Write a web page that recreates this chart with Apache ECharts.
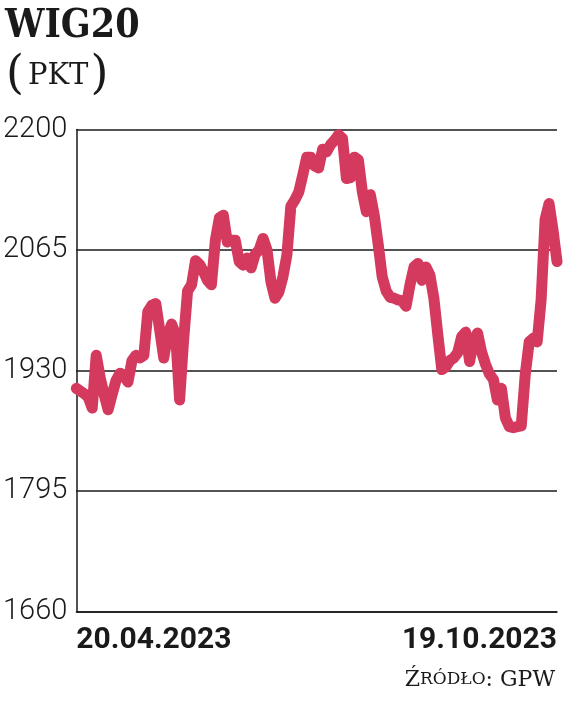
<!DOCTYPE html>
<html>
<head>
<meta charset="utf-8">
<script src="https://cdn.jsdelivr.net/npm/echarts@6/dist/echarts.min.js"></script>
<style>
html,body{margin:0;padding:0;background:#fff;}
#c{width:564px;height:702px;}
</style>
</head>
<body>
<div id="c"></div>
<script>
const titleText = 'WIG20';
const unitText = 'PKT';
const sourceText = ['Ź', 'RÓDŁO', ': GPW'];
const xLabels = ['20.04.2023', '19.10.2023'];
const yTicks = [1660, 1795, 1930, 2065, 2200];
const values = [
  1910, 1907, 1904, 1900, 1888, 1947, 1922, 1903, 1886, 1903,
  1919, 1927, 1924, 1917, 1941, 1947, 1944, 1947, 1996, 2003,
  2005, 1975, 1944, 1970, 1982, 1970, 1897, 1964, 2019, 2026,
  2053, 2049, 2041, 2031, 2026, 2076, 2101, 2104, 2074, 2076,
  2076, 2052, 2048, 2056, 2045, 2060, 2065, 2078, 2065, 2029,
  2011, 2018, 2035, 2059, 2114, 2121, 2130, 2149, 2169, 2169,
  2159, 2157, 2178, 2175, 2183, 2188, 2194, 2190, 2145, 2146,
  2169, 2166, 2130, 2108, 2127, 2104, 2071, 2035, 2019, 2012,
  2011, 2009, 2008, 2002, 2026, 2046, 2050, 2031, 2046, 2037,
  2011, 1970, 1931, 1934, 1941, 1944, 1950, 1968, 1973, 1940,
  1964, 1972, 1951, 1937, 1926, 1920, 1897, 1910, 1877, 1867,
  1866, 1867, 1868, 1925, 1962, 1966, 1962, 2009, 2099, 2117,
  2087, 2052
];
const categories = values.map((_, i) => String(i));

const chart = echarts.init(document.getElementById('c'), null, {renderer: 'canvas'});
const last = values.length - 1;
chart.setOption({
  animation: false,
  backgroundColor: '#ffffff',
  title: [
    {
      text: titleText,
      left: 0, top: 2,
      textStyle: {fontFamily: 'DejaVu Serif Condensed', fontWeight: 'bold', fontSize: 39, color: '#1a1a1a'}
    },
    {
      text: '{p|(}{u|' + unitText + '}{p|)}',
      left: 1, top: 48,
      textStyle: {
        fontWeight: 'normal',
        rich: {
          p: {fontFamily: 'DejaVu Serif', fontSize: 46, color: '#1a1a1a', fontWeight: 'normal'},
          u: {fontFamily: 'DejaVu Serif', fontSize: 29, color: '#1a1a1a', fontWeight: 'normal', padding: [0, 2, 0, 4]}
        }
      }
    },
    {
      text: '{b|' + sourceText[0] + '}{s|' + sourceText[1] + '}{b|' + sourceText[2] + '}',
      right: 4, top: 664,
      textStyle: {
        fontWeight: 'normal',
        rich: {
          b: {fontFamily: 'DejaVu Serif', fontSize: 22, color: '#1a1a1a', fontWeight: 'normal'},
          s: {fontFamily: 'DejaVu Serif', fontSize: 17, color: '#1a1a1a', fontWeight: 'normal'}
        }
      }
    }
  ],
  grid: {left: 73, right: 7, top: 129.5, bottom: 90.5, containLabel: false},
  xAxis: {
    type: 'category',
    data: categories,
    boundaryGap: false,
    axisLine: {show: true, lineStyle: {color: '#1a1a1a', width: 1.5}},
    axisTick: {show: false},
    splitLine: {show: false},
    axisLabel: {
      interval: 0,
      hideOverlap: false,
      margin: 14,
      alignMinLabel: 'left',
      alignMaxLabel: 'right',
      fontFamily: 'Roboto', fontWeight: 'bold', fontSize: 30, color: '#1a1a1a',
      formatter: function (v, i) { return i === 0 ? xLabels[0] : (i === last ? xLabels[1] : ''); }
    }
  },
  yAxis: {
    type: 'value',
    min: yTicks[0], max: yTicks[yTicks.length - 1], interval: yTicks[1] - yTicks[0],
    axisLine: {show: true, lineStyle: {color: '#1a1a1a', width: 1.5}},
    axisTick: {show: false},
    splitLine: {show: true, lineStyle: {color: '#1a1a1a', width: 1.5}},
    axisLabel: {
      margin: 9,
      fontFamily: 'Roboto', fontWeight: 300, fontSize: 29, color: '#1a1a1a',
      formatter: function (v) { return String(v); }
    }
  },
  series: [{
    type: 'line',
    data: values,
    symbol: 'none',
    smooth: false,
    clip: false,
    lineStyle: {color: '#d4395e', width: 11, join: 'round', cap: 'round'}
  }]
});
</script>
</body>
</html>
